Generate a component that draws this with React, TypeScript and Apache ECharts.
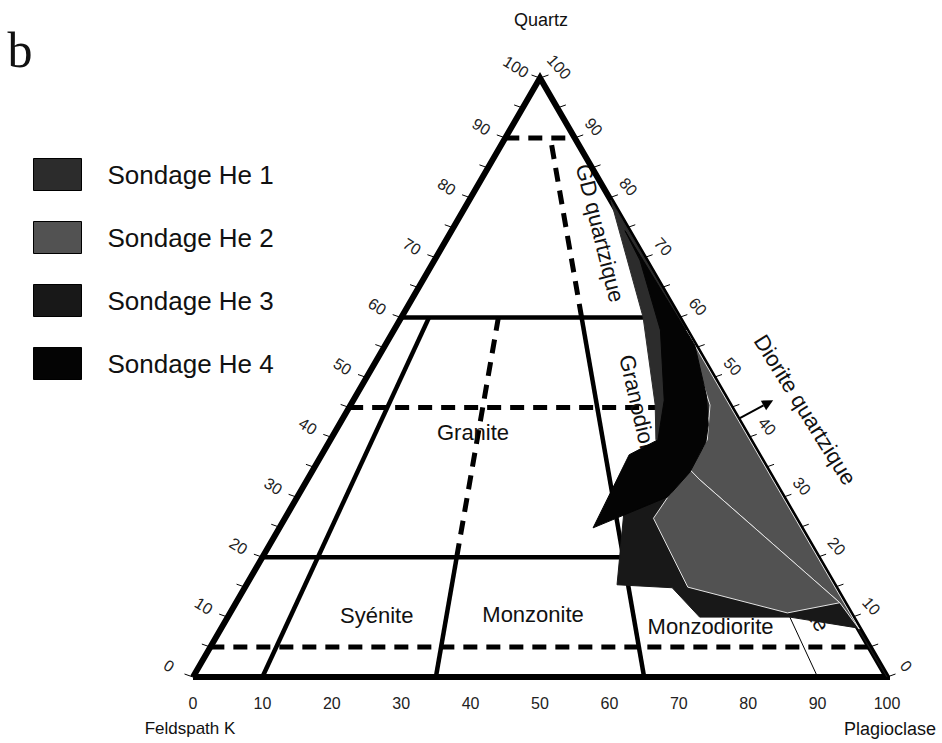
import React, { useEffect, useRef } from "react";
import * as echarts from "echarts";

// ---------- data (ternary points as [Quartz %, Plagioclase %], Feldspath K = 100 - Q - P) ----------
const SIDE_TICKS = [0, 5, 10, 15, 20, 25, 30, 35, 40, 45, 50, 55, 60, 65, 70, 75, 80, 85, 90, 95, 100];
const TICK_LABELS = [0, 10, 20, 30, 40, 50, 60, 70, 80, 90, 100];

// Streckeisen field boundaries
const SOLID_HORIZONTAL_Q = [60, 20];
const DASHED_HORIZONTAL_Q = [90, 45, 5];
// radial lines from the Quartz apex: [P/(A+P) ratio %, Q from, Q to]
const SOLID_RADIAL = [[10, 0, 60], [35, 0, 20], [65, 0, 60]];
const DASHED_RADIAL = [[35, 20, 60], [65, 60, 90]];
const THIN_RADIAL = [[90, 0, 20]];

const SERIES_NAMES = ["Sondage He 1", "Sondage He 2", "Sondage He 3", "Sondage He 4"];

const HE1_POLYS = [
  [[79.6, 20.4], [53.4, 46.6], [46, 52], [39.6, 53.3], [39.6, 46.9], [45.4, 43.9], [60.1, 34.8]],
];
const HE2_POLYS = [
  [[57.9, 42.1], [8, 92], [12.4, 87], [32.9, 56.6], [34.6, 54.3], [39.6, 54.3], [45.4, 51.8]],
  [[34.6, 54.3], [32.9, 56.6], [12.4, 87], [10.7, 80.3], [15, 63.8], [26.5, 53.1], [30, 53.4]],
];
const HE3_POLYS = [
  [[29.5, 47.5], [15.4, 53.4], [14.9, 61.6], [10, 68], [10, 81], [8.2, 91.6], [0, 100], [16.2, 83.7], [31.2, 57.5]],
];
const HE4_POLYS = [
  [[74.5, 25], [55.4, 44.6], [47.1, 50.4], [42.1, 53.2], [39.2, 54.3], [34.2, 54.5], [30.1, 53.4],
   [24.9, 45.2], [37.1, 44.3], [39.6, 47.2], [46.2, 44.8], [57.9, 38.4], [69.6, 29.6]],
];

const FIELD_NAMES = ["Granite", "Syénite", "Monzonite", "Monzodiorite", "GD quartzique", "Granodiorite", "Diorite", "Diorite quartzique"];
const FIELD_Q = [40.9, 10.35, 10.5, 8.35, 74.1, 43.9, 12.5, 44.6];
const FIELD_P = [19.9, 21.3, 43.75, 70.4, 21.6, 42.45, 82.35, 65.9];

const ARROW_FROM = [43.2, 57.2];
const ARROW_TO = [46.2, 60.5];

// ---------- helpers ----------
const FONT = "'Liberation Sans', Arial, Helvetica, sans-serif";
const cart = (q: number, p: number) => [p + q / 2, q];
const radial = (r: number, q: number) => [q / 2 + ((100 - q) * r) / 100, q];
const FIELD_ROT_DEG = [0, 0, 0, 0, 76, 77, 60, 58];
const COLORS = ["#2c2c2c", "#525252", "#181818", "#040404"];

const lineSeries = (data: number[][], width: number, type: any, z = 2) => ({
  type: "line",
  data,
  symbol: "none",
  silent: true,
  clip: false,
  z,
  lineStyle: { color: "#000", width, type, cap: "butt", join: "miter", miterLimit: 20 },
});

const polySeries = (name: string, polys: number[][][], color: string, z: number, outlined: number[]) => ({
  type: "custom",
  name,
  coordinateSystem: "cartesian2d",
  silent: true,
  z,
  clip: false,
  itemStyle: { color },
  encode: { x: 0, y: 1 },
  data: polys.map((poly) => {
    const pts = poly.map(([q, p]) => cart(q, p));
    return [pts.reduce((s, v) => s + v[0], 0) / pts.length, pts.reduce((s, v) => s + v[1], 0) / pts.length];
  }),
  renderItem: (params: any, api: any) => {
    const poly = polys[params.dataIndex];
    const points = poly.map(([q, p]) => api.coord(cart(q, p)));
    const white = outlined.indexOf(params.dataIndex) >= 0;
    return {
      type: "polygon",
      shape: { points },
      style: { fill: color, stroke: white ? "#e4e4e4" : color, lineWidth: 1 },
    };
  },
});

export default function App() {
  const ref = useRef<HTMLDivElement>(null);

  useEffect(() => {
    document.body.style.margin = "0";
    const chart = echarts.init(ref.current as HTMLDivElement, null, { renderer: "svg" });

    const series: any[] = [];
    // frame
    series.push(lineSeries([[0, 0], [50, 100], [100, 0], [0, 0]], 6, "solid", 3));
    SOLID_HORIZONTAL_Q.forEach((q) => series.push(lineSeries([[q / 2, q], [100 - q / 2, q]], 4.5, "solid")));
    DASHED_HORIZONTAL_Q.forEach((q) => series.push(lineSeries([[q / 2, q], [100 - q / 2, q]], 5, [14, 9])));
    SOLID_RADIAL.forEach(([r, a, b]) => series.push(lineSeries([radial(r, a), radial(r, b)], 4.5, "solid")));
    DASHED_RADIAL.forEach(([r, a, b]) => series.push(lineSeries([radial(r, a), radial(r, b)], 5, [14, 9])));
    THIN_RADIAL.forEach(([r, a, b]) => series.push(lineSeries([radial(r, a), radial(r, b)], 1, "solid")));

    // side ticks and labels
    const sideSeries = (side: number) => ({
      type: "custom",
      coordinateSystem: "cartesian2d",
      silent: true,
      clip: false,
      z: 4,
      encode: { x: 0, y: 1 },
      data: SIDE_TICKS.map((q) => (side < 0 ? [q / 2, q, q] : [100 - q / 2, q, q])),
      renderItem: (params: any, api: any) => {
        const q = api.value(2);
        const pt = api.coord([api.value(0), api.value(1)]);
        const children: any[] = [
          {
            type: "line",
            shape: { x1: pt[0], y1: pt[1], x2: pt[0] + side * 8.5, y2: pt[1] - 3 },
            style: { stroke: "#000", lineWidth: 1 },
          },
        ];
        if (TICK_LABELS.indexOf(q) >= 0) {
          children.push({
            type: "text",
            x: pt[0] + (side < 0 ? -24 : 19),
            y: pt[1] - 11,
            rotation: ((side < 0 ? -32 : -48) * Math.PI) / 180,
            style: { text: String(q), fontSize: 16, fontFamily: FONT, fill: "#222", align: "center", verticalAlign: "middle" },
          });
        }
        return { type: "group", children };
      },
    });
    series.push(sideSeries(-1), sideSeries(1));

    // bottom labels
    series.push({
      type: "custom",
      coordinateSystem: "cartesian2d",
      silent: true,
      clip: false,
      z: 4,
      encode: { x: 0, y: 1 },
      data: TICK_LABELS.map((v) => [v, 0]),
      renderItem: (params: any, api: any) => {
        const pt = api.coord([api.value(0), api.value(1)]);
        return {
          type: "text",
          x: pt[0],
          y: pt[1] + 26,
          style: { text: String(api.value(0)), fontSize: 16, fontFamily: FONT, fill: "#222", align: "center", verticalAlign: "middle" },
        };
      },
    });

    // field labels
    series.push({
      type: "custom",
      coordinateSystem: "cartesian2d",
      silent: true,
      clip: false,
      z: 3,
      encode: { x: 0, y: 1 },
      data: FIELD_NAMES.map((n, i) => cart(FIELD_Q[i], FIELD_P[i])),
      renderItem: (params: any, api: any) => {
        const i = params.dataIndex;
        const pt = api.coord([api.value(0), api.value(1)]);
        return {
          type: "text",
          x: pt[0],
          y: pt[1],
          rotation: (-FIELD_ROT_DEG[i] * Math.PI) / 180,
          style: { text: FIELD_NAMES[i], fontSize: 22, fontFamily: FONT, fill: "#111", align: "center", verticalAlign: "middle" },
        };
      },
    });

    // polygons
    series.push(polySeries(SERIES_NAMES[0], HE1_POLYS, COLORS[0], 5, []));
    series.push(polySeries(SERIES_NAMES[2], HE3_POLYS, COLORS[2], 6, []));
    series.push(polySeries(SERIES_NAMES[1], HE2_POLYS, COLORS[1], 7, [0, 1]));
    series.push(polySeries(SERIES_NAMES[3], HE4_POLYS, COLORS[3], 8, []));

    // arrow
    series.push({
      type: "custom",
      coordinateSystem: "cartesian2d",
      silent: true,
      clip: false,
      z: 9,
      encode: { x: [0, 2], y: [1, 3] },
      data: [[...cart(ARROW_FROM[0], ARROW_FROM[1]), ...cart(ARROW_TO[0], ARROW_TO[1])]],
      renderItem: (params: any, api: any) => {
        const a = api.coord([api.value(0), api.value(1)]);
        const b = api.coord([api.value(2), api.value(3)]);
        const ang = Math.atan2(b[1] - a[1], b[0] - a[0]);
        const L = 11, W = 5.5;
        const base = [b[0] - L * Math.cos(ang), b[1] - L * Math.sin(ang)];
        const nx = -Math.sin(ang), ny = Math.cos(ang);
        return {
          type: "group",
          children: [
            { type: "line", shape: { x1: a[0], y1: a[1], x2: base[0], y2: base[1] }, style: { stroke: "#000", lineWidth: 2 } },
            {
              type: "polygon",
              shape: { points: [b, [base[0] + nx * W, base[1] + ny * W], [base[0] - nx * W, base[1] - ny * W]] },
              style: { fill: "#000" },
            },
          ],
        };
      },
    });

    chart.setOption({
      animation: false,
      backgroundColor: "#fff",
      grid: { left: 193, top: 78, width: 694, height: 599, containLabel: false },
      xAxis: { type: "value", min: 0, max: 100, show: false },
      yAxis: { type: "value", min: 0, max: 100, show: false },
      legend: {
        orient: "vertical",
        left: 28,
        top: 153,
        icon: "rect",
        itemWidth: 48,
        itemHeight: 32,
        itemGap: 30,
        selectedMode: false,
        data: SERIES_NAMES,
        itemStyle: { borderColor: "#000", borderWidth: 1 },
        textStyle: { fontSize: 26, fontFamily: FONT, color: "#111", padding: [0, 0, 0, 21] },
      },
      graphic: [
        { type: "text", x: 20, y: 50, style: { text: "b", fontSize: 50, fontFamily: "'Liberation Serif', 'DejaVu Serif', serif", fill: "#111", align: "center", verticalAlign: "middle" } },
        { type: "text", x: 541, y: 20, style: { text: "Quartz", fontSize: 18, fontFamily: FONT, fill: "#111", align: "center", verticalAlign: "middle" } },
        { type: "text", x: 190, y: 728, style: { text: "Feldspath K", fontSize: 17, fontFamily: FONT, fill: "#111", align: "center", verticalAlign: "middle" } },
        { type: "text", x: 890, y: 729, style: { text: "Plagioclase", fontSize: 18, fontFamily: FONT, fill: "#111", align: "center", verticalAlign: "middle" } },
      ],
      series,
    });

    return () => chart.dispose();
  }, []);

  return <div ref={ref} style={{ width: 942, height: 743, background: "#fff" }} />;
}
